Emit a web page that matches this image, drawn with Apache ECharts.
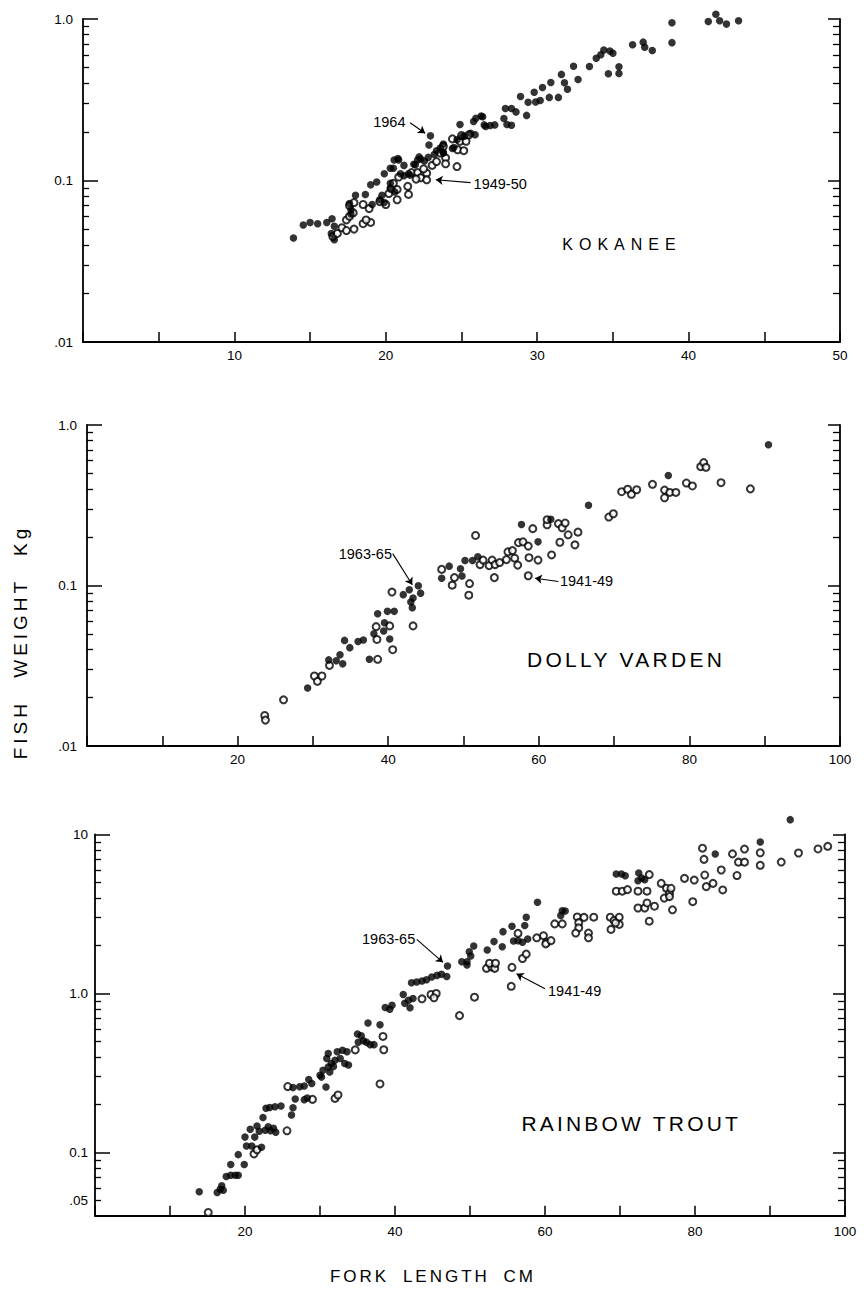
<!DOCTYPE html>
<html>
<head>
<meta charset="utf-8">
<script src="https://cdn.jsdelivr.net/npm/echarts@6/dist/echarts.min.js"></script>
<style>
html,body{margin:0;padding:0;background:#fff;}
#c{width:864px;height:1291px;}
#c text[style*="lsKok"]{letter-spacing:6px;}
#c text[style*="lsDol"]{letter-spacing:3.3px;}
#c text[style*="lsRai"]{letter-spacing:3.2px;}
#c text[style*="lsAxY"]{letter-spacing:4px;word-spacing:13px;}
#c text[style*="lsAxX"]{letter-spacing:3px;word-spacing:6px;}
</style>
</head>
<body>
<div id="c"></div>
<script>
// ---------- DATA (fork length cm, weight kg) ----------
const kokanee1964 = [
 [13.9,0.044],[14.55,0.053],[15.0,0.055],[15.5,0.054],[16.1,0.055],[16.45,0.058],[16.6,0.052],[16.4,0.047],[16.6,0.043],
 [17.7,0.066],[17.7,0.062],[17.6,0.072],[18.0,0.081],[18.65,0.082],[19.1,0.071],[19.0,0.094],[19.4,0.098],[19.6,0.076],
 [19.75,0.081],[19.9,0.073],[19.9,0.110],[20.3,0.119],[20.3,0.096],[20.3,0.090],[20.6,0.085],[20.55,0.134],[20.8,0.137],
 [20.5,0.119],[20.85,0.134],[20.97,0.110],[21.2,0.107],[21.5,0.110],[21.2,0.124],[21.6,0.108],[21.85,0.126],[21.95,0.125],
 [22.1,0.134],[22.3,0.136],[22.2,0.140],[22.55,0.132],[22.8,0.139],[22.85,0.166],[22.95,0.189],[23.2,0.145],[23.35,0.153],
 [23.6,0.159],[23.8,0.168],[23.8,0.148],[23.8,0.149],[24.4,0.158],[24.5,0.160],[24.7,0.179],[25.05,0.187],[24.9,0.222],
 [25.2,0.188],[25.6,0.196],[25.9,0.192],[25.8,0.232],[25.95,0.243],[26.4,0.248],[26.5,0.221],[26.3,0.251],[26.6,0.216],
 [26.9,0.219],[27.2,0.221],[27.8,0.242],[28.0,0.222],[28.3,0.220],[27.9,0.279],[28.3,0.279],[28.6,0.266],[28.9,0.331],
 [29.3,0.253],[29.4,0.305],[29.8,0.352],[29.9,0.306],[30.2,0.313],[30.35,0.377],[30.8,0.327],[30.9,0.404],[31.4,0.327],
 [31.6,0.454],[31.8,0.403],[32.0,0.367],[32.4,0.51],[32.7,0.422],[33.45,0.508],[33.9,0.571],[34.2,0.60],[34.4,0.643],
 [34.7,0.458],[34.8,0.634],[35.0,0.613],[35.4,0.506],[35.4,0.46],[36.3,0.693],[37.0,0.719],[37.1,0.669],[37.6,0.638],
 [38.9,0.949],[38.9,0.714],[41.3,0.966],[41.8,1.07],[42.05,0.975],[42.5,0.93],[43.3,0.975]
];
const kokanee1949 = [
 [16.5,0.045],[16.8,0.047],[17.1,0.051],[17.4,0.049],[17.9,0.050],[18.5,0.054],[19.0,0.055],[18.7,0.057],[17.4,0.057],
 [17.6,0.060],[17.85,0.063],[17.6,0.070],[17.9,0.073],[18.5,0.071],[18.9,0.067],[19.6,0.074],[20.0,0.071],[20.2,0.083],
 [20.35,0.089],[20.75,0.088],[20.75,0.076],[20.5,0.096],[20.85,0.105],[21.45,0.092],[21.5,0.082],[21.7,0.112],[22.1,0.112],
 [22.3,0.104],[22.7,0.111],[22.7,0.101],[22.0,0.102],[22.5,0.118],[23.06,0.124],[23.35,0.131],[23.95,0.138],[23.95,0.127],
 [23.6,0.148],[23.8,0.163],[24.4,0.181],[24.7,0.122],[24.75,0.155],[24.9,0.175],[25.15,0.153],[25.3,0.175],[25.5,0.192],[25.0,0.19]
];
const dolly1963 = [
 [29.3,0.023],[32.1,0.0344],[33.1,0.034],[33.6,0.037],[33.96,0.0325],[34.2,0.0455],[34.9,0.041],[36.0,0.0448],[36.7,0.0457],
 [37.5,0.0347],[38.1,0.050],[38.6,0.0667],[39.5,0.0586],[39.4,0.052],[39.9,0.069],[40.8,0.069],[40.2,0.0464],[42.0,0.0877],
 [42.8,0.094],[43.3,0.0836],[44.0,0.0996],[44.3,0.0896],[43.2,0.0728],[43.0,0.079],[47.1,0.111],[48.1,0.132],[49.6,0.127],
 [49.8,0.1145],[50.2,0.143],[51.2,0.143],[51.9,0.151],[57.7,0.24],[59.9,0.187],[61.6,0.259],[66.6,0.316],[77.2,0.484],[90.5,0.753]
];
const dolly1941 = [
 [23.6,0.0155],[23.7,0.0145],[26.1,0.0194],[30.2,0.0273],[30.6,0.0253],[31.2,0.0273],[32.2,0.0318],[38.4,0.0554],[38.5,0.0461],
 [38.6,0.0347],[40.2,0.056],[40.6,0.0398],[40.5,0.091],[43.3,0.056],[47.1,0.126],[48.8,0.112],[48.5,0.1005],[50.8,0.1028],
 [50.7,0.087],[51.6,0.205],[52.2,0.135],[52.6,0.144],[53.4,0.133],[53.8,0.144],[54.2,0.135],[54.1,0.112],[54.8,0.139],
 [55.7,0.145],[55.9,0.162],[56.5,0.165],[56.8,0.148],[57.2,0.134],[57.3,0.185],[57.9,0.187],[58.6,0.176],[58.6,0.115],
 [58.7,0.149],[59.9,0.144],[59.2,0.226],[61.1,0.239],[61.1,0.257],[61.7,0.155],[62.6,0.243],[63.1,0.229],[63.5,0.245],
 [62.8,0.186],[63.9,0.207],[64.8,0.179],[65.2,0.215],[69.3,0.267],[69.9,0.28],[71.0,0.384],[71.8,0.398],[72.3,0.37],
 [73.0,0.395],[75.1,0.427],[76.7,0.393],[76.7,0.352],[77.4,0.38],[78.2,0.38],[79.6,0.435],[80.4,0.417],[81.5,0.55],
 [81.9,0.583],[82.2,0.545],[84.2,0.437],[88.1,0.40]
];
const rainbow1963 = [
 [13.9,0.0566],[16.3,0.056],[16.7,0.0588],[17.1,0.058],[16.9,0.0617],[17.5,0.0706],[18.1,0.072],[18.7,0.072],[19.1,0.072],
 [18.1,0.084],[19.9,0.084],[19.1,0.097],[20.2,0.11],[20.9,0.11],[20.0,0.125],[20.7,0.14],[21.3,0.125],[21.9,0.136],[21.6,0.147],
 [22.2,0.108],[22.4,0.166],[22.7,0.138],[23.1,0.145],[23.4,0.137],[23.8,0.142],[24.1,0.134],[22.8,0.19],[23.3,0.192],[24.0,0.194],
 [24.8,0.196],[26.2,0.172],[26.4,0.191],[26.7,0.217],[27.9,0.215],[28.3,0.22],[26.4,0.256],[27.3,0.259],[27.9,0.262],[28.5,0.288],
 [28.9,0.272],[30.8,0.258],[30.0,0.306],[30.4,0.329],[31.1,0.345],[31.1,0.419],[31.5,0.363],[32.0,0.38],[32.3,0.43],[32.7,0.39],
 [33.0,0.44],[33.3,0.363],[33.6,0.43],[33.8,0.355],[31.8,0.347],[30.9,0.39],[31.3,0.321],[30.2,0.298],[35.0,0.557],[35.5,0.543],
 [35.8,0.505],[36.2,0.493],[36.7,0.477],[37.2,0.477],[35.1,0.493],[36.4,0.653],[38.0,0.635],[38.7,0.817],[39.3,0.796],[39.6,0.844],
 [41.1,0.987],[41.3,0.867],[41.8,0.908],[42.0,0.813],[42.4,0.931],[42.2,1.17],[42.9,1.18],[43.6,1.2],[44.2,1.22],[44.9,1.27],
 [45.6,1.3],[46.2,1.32],[46.9,1.28],[47.0,1.49],[48.9,1.585],[49.6,1.585],[49.6,1.51],[49.9,1.83],[50.5,1.99],[50.1,1.72],
 [52.3,1.88],[53.2,2.12],[54.4,2.45],[54.3,1.97],[55.6,2.65],[55.8,2.14],[56.4,2.15],[57.0,2.1],[57.7,2.2],[57.3,2.68],[57.5,3.02],
 [59.0,3.75],[62.3,3.31],[62.1,3.09],[62.7,3.3],[69.5,5.65],[70.2,5.65],[70.7,5.5],[72.5,5.72],[72.9,5.33],[73.3,5.19],[72.4,5.12],
 [82.7,7.54],[88.7,8.97],[92.7,12.4]
];
const rainbow1941 = [
 [15.1,0.042],[21.2,0.098],[21.6,0.104],[25.6,0.137],[25.7,0.26],[29.0,0.216],[32.0,0.219],[32.4,0.23],[34.7,0.442],[38.4,0.537],
 [38.5,0.443],[38.0,0.27],[43.6,0.926],[44.8,0.986],[45.5,1.0],[45.2,0.94],[48.6,0.726],[50.6,0.948],[52.2,1.44],[52.9,1.47],
 [53.3,1.44],[52.6,1.55],[53.4,1.55],[55.5,1.11],[55.6,1.46],[57.0,1.66],[57.5,1.77],[56.4,2.39],[58.9,2.24],[59.8,2.31],[60.2,2.09],
 [60.1,2.05],[60.8,2.15],[61.3,2.74],[62.3,2.74],[64.3,3.03],[65.2,3.01],[64.5,2.79],[64.5,2.59],[64.1,2.4],[65.8,2.4],[65.8,2.24],
 [66.5,3.02],[68.7,3.02],[69.2,2.88],[69.9,3.02],[69.9,2.72],[68.8,2.53],[69.4,2.78],[69.5,4.4],[70.3,4.4],[71.0,4.5],[72.4,4.4],
 [73.6,4.4],[73.9,5.6],[72.4,3.45],[73.3,3.45],[73.6,3.71],[74.6,3.54],[73.9,2.85],[75.5,4.93],[76.2,4.59],[76.6,4.27],[76.8,4.59],
 [75.9,3.98],[76.6,4.07],[77.0,3.36],[78.6,5.3],[79.7,3.78],[79.9,5.17],[81.0,8.2],[81.2,6.98],[81.3,5.56],[81.5,4.7],[82.4,4.93],
 [83.5,5.98],[83.7,4.48],[85.0,7.55],[85.8,6.7],[86.6,6.7],[86.6,8.1],[85.6,5.52],[88.7,7.68],[88.7,6.4],[91.5,6.71],[93.8,7.65],
 [96.4,8.11],[97.7,8.43]
];

// ---------- TICKS / LABELS ----------
const kokaneeXLabels = [10, 20, 30, 40, 50];
const troutXLabels = [20, 40, 60, 80, 100];
const kokaneeYLabelValues = [0.01, 0.1, 1];
const kokaneeYLabelTexts = ['.01', '0.1', '1.0'];
const dollyYLabelValues = [0.01, 0.1, 1];
const dollyYLabelTexts = ['.01', '0.1', '1.0'];
const rainbowYLabelValues = [0.05, 0.1, 1, 10];
const rainbowYLabelTexts = ['.05', '0.1', '1.0', '10'];
const twoDecadeMajor = [0.1, 1];
const twoDecadeMinor = [0.02,0.03,0.04,0.05,0.06,0.07,0.08,0.09,0.2,0.3,0.4,0.5,0.6,0.7,0.8,0.9];
const rainbowMajor = [0.1, 1, 10];
const rainbowMinor = [0.05,0.06,0.07,0.08,0.09,0.2,0.3,0.4,0.5,0.6,0.7,0.8,0.9,2,3,4,5,6,7,8,9];

// ---------- ANNOTATIONS (text, length, weight) ----------
const kokaneeNotes = [['1964', 21.3, 0.231], ['1949-50', 25.8, 0.0947]];
const kokaneeArrows = [[21.6, 0.228, 22.6, 0.196], [25.6, 0.097, 23.3, 0.101]];
const kokaneeTitle = ['KOKANEE', 35.6, 0.040];
const dollyNotes = [['1963-65', 40.5, 0.158], ['1941-49', 62.8, 0.107]];
const dollyArrows = [[40.6, 0.158, 43.2, 0.101], [62.6, 0.106, 59.5, 0.111]];
const dollyTitle = ['DOLLY VARDEN', 71.6, 0.0347];
const rainbowNotes = [['1963-65', 42.7, 2.19], ['1941-49', 60.4, 1.03]];
const rainbowArrows = [[42.9, 2.19, 46.4, 1.57], [60.0, 1.07, 56.2, 1.33]];
const rainbowTitle = ['RAINBOW TROUT', 71.5, 0.152];

// ---------- BUILD ----------
const FONT = "'Liberation Sans', Arial, sans-serif";
const panels = [
  {grid:{left:83, top:19, width:757, height:323}, xMax:50, xStep:5, xLabels:kokaneeXLabels, yMin:0.01, yMax:1,
   major:twoDecadeMajor, minor:twoDecadeMinor, lv:kokaneeYLabelValues, lt:kokaneeYLabelTexts,
   open:kokanee1949, filled:kokanee1964, notes:kokaneeNotes, arrows:kokaneeArrows, curv:[0.12,-0.1], title:kokaneeTitle,
   tcls:'lsKok', tsize:16, xm:6, ym:10},
  {grid:{left:87, top:425, width:753, height:321}, xMax:100, xStep:10, xLabels:troutXLabels, yMin:0.01, yMax:1,
   major:twoDecadeMajor, minor:twoDecadeMinor, lv:dollyYLabelValues, lt:dollyYLabelTexts,
   open:dolly1941, filled:dolly1963, notes:dollyNotes, arrows:dollyArrows, curv:[0.6,0.2], title:dollyTitle,
   tcls:'lsDol', tsize:21, xm:6, ym:10},
  {grid:{left:95, top:834.5, width:750, height:381.3}, xMax:100, xStep:10, xLabels:troutXLabels, yMin:0.04, yMax:10,
   major:rainbowMajor, minor:rainbowMinor, lv:rainbowYLabelValues, lt:rainbowYLabelTexts,
   open:rainbow1941, filled:rainbow1963, notes:rainbowNotes, arrows:rainbowArrows, curv:[0.3,0.3], title:rainbowTitle,
   tcls:'lsRai', tsize:21, xm:9, ym:7}
];

function nudge(vals, lo, hi) {
  return vals.map(v => Math.min(Math.max(v, lo * (1 + 1e-9)), hi * (1 - 1e-9)));
}
function yFmt(vals, texts) {
  return function (v) {
    for (let k = 0; k < vals.length; k++) {
      if (Math.abs(Math.log10(v) - Math.log10(vals[k])) < 1e-4) return texts[k];
    }
    return '';
  };
}

const option = {animation:false, backgroundColor:'#fff', grid:[], xAxis:[], yAxis:[], series:[],
  graphic:[
    {type:'text', x:20, y:642, rotation:Math.PI/2, silent:true,
     style:{text:'FISH WEIGHT Kg', fill:'#000', fontSize:19, fontFamily:"'Liberation Sans', lsAxY",
            align:'center', verticalAlign:'middle', textAlign:'center', textVerticalAlign:'middle'}},
    {type:'text', x:433, y:1276, silent:true,
     style:{text:'FORK LENGTH CM', fill:'#000', fontSize:17, fontFamily:"'Liberation Sans', lsAxX",
            align:'center', verticalAlign:'middle', textAlign:'center', textVerticalAlign:'middle'}}
  ]};

const AX = {color:'#000', width:1.8};
panels.forEach((p, i) => {
  option.grid.push(Object.assign({outerBoundsMode:'none', containLabel:false}, p.grid));
  option.xAxis.push({gridIndex:i, type:'value', min:0, max:p.xMax, interval:p.xStep,
    axisLine:{onZero:false, lineStyle:AX},
    axisTick:{inside:true, length:10, lineStyle:{color:'#000', width:1.5}},
    axisLabel:{color:'#000', fontSize:13.5, fontFamily:FONT, margin:p.xm,
      formatter: v => p.xLabels.indexOf(Math.round(v)) >= 0 ? String(Math.round(v)) : ''},
    splitLine:{show:false}});
  const base = {gridIndex:i, type:'log', logBase:10, min:p.yMin, max:p.yMax, splitLine:{show:false}};
  const yi = option.yAxis.length;
  option.yAxis.push(Object.assign({}, base, {position:'left',
    axisLine:{show:true, onZero:false, lineStyle:AX},
    axisTick:{show:true, inside:true, length:15, lineStyle:{color:'#000', width:1.5}, customValues:nudge(p.major, p.yMin, p.yMax)},
    axisLabel:{show:true, customValues:nudge(p.lv, p.yMin, p.yMax), formatter:yFmt(p.lv, p.lt),
      color:'#000', fontSize:13.5, fontFamily:FONT, margin:p.ym}}));
  option.yAxis.push(Object.assign({}, base, {position:'left', axisLine:{show:false}, axisLabel:{show:false},
    axisTick:{show:true, inside:true, length:6, lineStyle:{color:'#000', width:1.3}, customValues:nudge(p.minor, p.yMin, p.yMax)}}));
  option.yAxis.push(Object.assign({}, base, {position:'right', axisLabel:{show:false},
    axisLine:{show:true, onZero:false, lineStyle:AX},
    axisTick:{show:true, inside:true, length:12, lineStyle:{color:'#000', width:1.5}, customValues:nudge(p.major, p.yMin, p.yMax)}}));
  option.yAxis.push(Object.assign({}, base, {position:'right', axisLine:{show:false}, axisLabel:{show:false},
    axisTick:{show:true, inside:true, length:7, lineStyle:{color:'#000', width:1.3}, customValues:nudge(p.minor, p.yMin, p.yMax)}}));

  option.series.push({type:'scatter', name:'open'+i, xAxisIndex:i, yAxisIndex:yi, data:p.open,
    symbol:'emptyCircle', symbolSize:7, clip:false, silent:true, z:2,
    itemStyle:{color:'#000', borderColor:'#000', borderWidth:1.4},
    markPoint:{silent:true, symbol:'rect', symbolSize:1, itemStyle:{color:'rgba(0,0,0,0)'},
      label:{show:true, position:'inside', color:'#000', fontSize:p.tsize, fontFamily:"'Liberation Sans', " + p.tcls, formatter:'{b}'},
      data:[{name:p.title[0], coord:[p.title[1], p.title[2]]}]}});
  option.series.push({type:'scatter', name:'filled'+i, xAxisIndex:i, yAxisIndex:yi, data:p.filled,
    symbol:'circle', symbolSize:7.5, clip:false, silent:true, z:3,
    itemStyle:{color:'#000'},
    markLine:{silent:true, symbol:['none','arrow'], symbolSize:7, animation:false,
      lineStyle:{color:'#000', width:1.1, type:'solid'}, label:{show:false},
      data:p.arrows.map((a, k) => [{coord:[a[0], a[1]], lineStyle:{curveness:p.curv[k]}}, {coord:[a[2], a[3]]}])},
    markPoint:{silent:true, symbol:'rect', symbolSize:1, itemStyle:{color:'rgba(0,0,0,0)'},
      label:{show:true, position:'inside', color:'#000', fontSize:14.5, fontFamily:FONT, formatter:'{b}'},
      data:p.notes.map((n, k) => ({name:n[0], coord:[n[1], n[2]], label:{align: k === 0 ? 'right' : 'left'}}))}});
});

const chart = echarts.init(document.getElementById('c'), null, {renderer:'svg', width:864, height:1291});
chart.setOption(option);
</script>
</body>
</html>
